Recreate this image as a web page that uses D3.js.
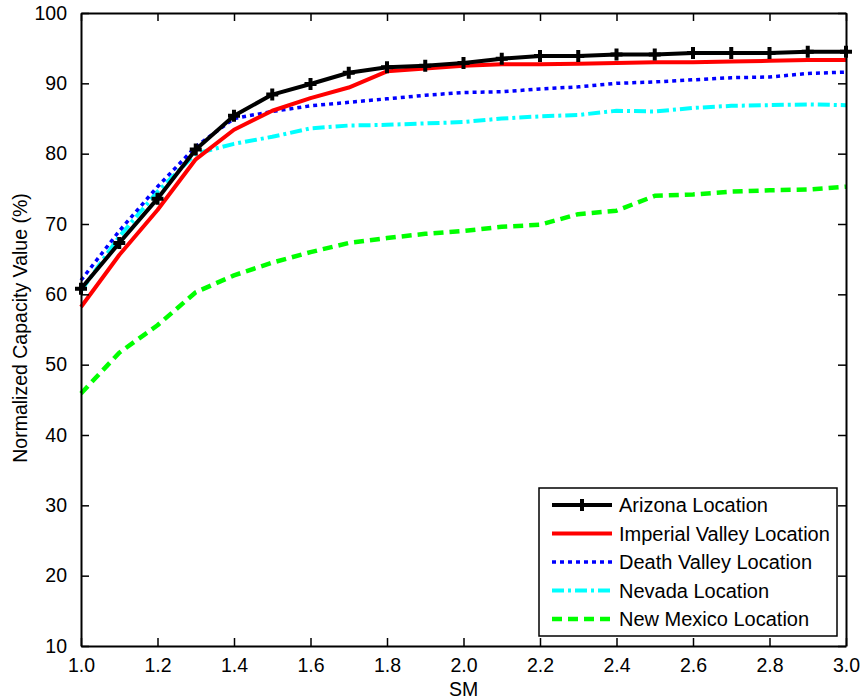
<!DOCTYPE html>
<html>
<head>
<meta charset="utf-8">
<script src="https://cdn.jsdelivr.net/npm/d3@7"></script>
<style>
  body { margin: 0; background: #fff; }
  text { font-family: "Liberation Sans", Arial, sans-serif; fill: #000; }
</style>
</head>
<body>
<div id="chart"></div>
<script>
// SM values on the x axis
var smValues = [1.0, 1.1, 1.2, 1.3, 1.4, 1.5, 1.6, 1.7, 1.8, 1.9, 2.0,
                2.1, 2.2, 2.3, 2.4, 2.5, 2.6, 2.7, 2.8, 2.9, 3.0];

// normalized capacity value (%) per location
var arizona    = [60.8, 67.3, 73.6, 80.6, 85.4, 88.4, 89.9, 91.5, 92.3, 92.5, 92.9,
                  93.5, 93.9, 93.9, 94.1, 94.1, 94.3, 94.3, 94.3, 94.5, 94.5];
var imperial   = [58.2, 65.6, 72.0, 79.2, 83.4, 86.1, 87.9, 89.4, 91.7, 92.1, 92.5,
                  92.7, 92.7, 92.8, 92.9, 93.0, 93.0, 93.1, 93.2, 93.3, 93.3];
var deathValley = [62.0, 69.0, 75.3, 81.0, 85.0, 86.0, 86.8, 87.3, 87.8, 88.3, 88.7,
                  88.8, 89.2, 89.5, 90.0, 90.2, 90.5, 90.8, 90.9, 91.4, 91.6];
var nevada     = [60.5, 68.2, 74.6, 80.0, 81.4, 82.4, 83.6, 84.0, 84.1, 84.3, 84.5,
                  85.0, 85.3, 85.5, 86.1, 86.0, 86.5, 86.8, 86.9, 87.0, 86.9];
var newMexico  = [45.9, 51.7, 55.6, 60.3, 62.7, 64.5, 66.0, 67.3, 68.0, 68.6, 69.0,
                  69.6, 69.9, 71.4, 71.9, 74.0, 74.2, 74.6, 74.8, 74.9, 75.3];

var seriesNames = ["Arizona Location", "Imperial Valley Location", "Death Valley Location",
                   "Nevada Location", "New Mexico Location"];
var xTicks = [1.0, 1.2, 1.4, 1.6, 1.8, 2.0, 2.2, 2.4, 2.6, 2.8, 3.0];
var yTicks = [10, 20, 30, 40, 50, 60, 70, 80, 90, 100];

//Dimensions
var margin = {top: 13, right: 16, bottom: 54, left: 81},
    width = 862 - margin.left - margin.right,
    height = 700 - margin.top - margin.bottom;

var svg = d3.select("#chart").append("svg")
    .attr("width", 862).attr("height", 700)
    .append("g")
    .attr("transform", "translate(" + margin.left + "," + margin.top + ")");

var x = d3.scaleLinear().domain([1, 3]).range([0, width]);
var y = d3.scaleLinear().domain([10, 100]).range([height, 0]);

//Styles for each series
var styles = [
  {values: arizona,     color: "#000000", w: 4,   dash: null,          marker: true},
  {values: imperial,    color: "#ff0000", w: 4,   dash: null,          marker: false},
  {values: deathValley, color: "#0000ff", w: 3.5, dash: "4,4",         marker: false},
  {values: nevada,      color: "#00ffff", w: 4,   dash: "12,4,3,4",    marker: false},
  {values: newMexico,   color: "#00ff00", w: 4.5, dash: "10,6",        marker: false}
];

var line = d3.line()
    .x(function(d){ return x(d[0]); })
    .y(function(d){ return y(d[1]); });

var plus = "M-6,0H6M0,-6V6";

// draw in reverse so Arizona ends on top
styles.slice().reverse().forEach(function(s){
    var pts = smValues.map(function(v, i){ return [v, s.values[i]]; });
    svg.append("path")
       .datum(pts)
       .attr("d", line)
       .attr("fill", "none")
       .attr("stroke", s.color)
       .attr("stroke-width", s.w)
       .attr("stroke-dasharray", s.dash)
       .attr("stroke-linejoin", "round");
    if (s.marker) {
        svg.selectAll(".mk")
           .data(pts)
           .enter()
           .append("path")
           .attr("class", "mk")
           .attr("d", plus)
           .attr("transform", function(d){ return "translate(" + x(d[0]) + "," + y(d[1]) + ")"; })
           .attr("stroke", s.color)
           .attr("stroke-width", 4);
    }
});

//Axes (MATLAB box style, ticks inward)
var tickLen = 8;
var fmt = d3.format(".1f");

svg.append("g").attr("transform", "translate(0," + height + ")")
   .call(d3.axisBottom(x).tickValues(xTicks).tickFormat(fmt).tickSizeInner(-tickLen).tickSizeOuter(0).tickPadding(12));
svg.append("g")
   .call(d3.axisTop(x).tickValues(xTicks).tickFormat("").tickSizeInner(-tickLen).tickSizeOuter(0));
svg.append("g")
   .call(d3.axisLeft(y).tickValues(yTicks).tickSizeInner(-tickLen).tickSizeOuter(0).tickPadding(14));
svg.append("g").attr("transform", "translate(" + width + ",0)")
   .call(d3.axisRight(y).tickValues(yTicks).tickFormat("").tickSizeInner(-tickLen).tickSizeOuter(0));

svg.selectAll(".domain").attr("stroke", "#000").attr("stroke-width", 2);
svg.selectAll(".tick line").attr("stroke", "#000").attr("stroke-width", 1.5);
svg.selectAll(".tick text").attr("font-size", "19.5px").attr("font-family", "Liberation Sans, Arial, sans-serif").attr("fill", "#000");

//Axis labels
svg.append("text")
   .attr("x", width / 2).attr("y", height + 50)
   .attr("text-anchor", "middle")
   .attr("font-size", "19.5px")
   .text("SM");

svg.append("text")
   .attr("transform", "translate(" + (27 - margin.left) + "," + (328 - margin.top) + ") rotate(-90)")
   .attr("text-anchor", "middle")
   .attr("font-size", "19.5px")
   .text("Normalized Capacity Value (%)");

//Legend
var lg = svg.append("g").attr("transform", "translate(" + (539 - margin.left) + "," + (488 - margin.top) + ")");
lg.append("rect")
  .attr("width", 298).attr("height", 148)
  .attr("fill", "#fff").attr("stroke", "#000").attr("stroke-width", 1.5);

styles.forEach(function(s, i){
    var cy = 17 + i * 28.5;
    lg.append("line")
      .attr("x1", 13).attr("x2", 73).attr("y1", cy).attr("y2", cy)
      .attr("stroke", s.color).attr("stroke-width", s.w)
      .attr("stroke-dasharray", s.dash);
    if (s.marker) {
        lg.append("path").attr("d", plus)
          .attr("transform", "translate(43," + cy + ")")
          .attr("stroke", s.color).attr("stroke-width", 4);
    }
    lg.append("text")
      .attr("x", 80).attr("y", cy + 7)
      .attr("font-size", "20px")
      .text(seriesNames[i]);
});
</script>
</body>
</html>
